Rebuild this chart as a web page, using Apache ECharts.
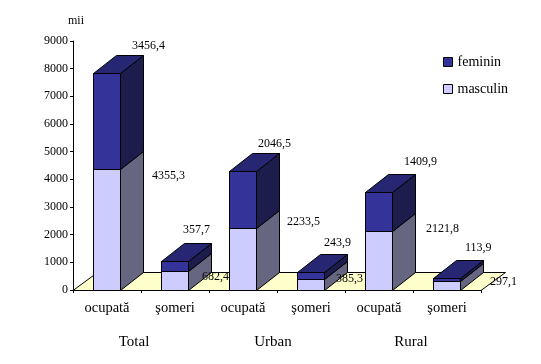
<!DOCTYPE html>
<html>
<head>
<meta charset="utf-8">
<script src="https://cdn.jsdelivr.net/npm/echarts@6/dist/echarts.min.js"></script>
<style>
    html, body { margin: 0; padding: 0; background: #fff; }
    #chart { width: 541px; height: 364px; }
</style>
</head>
<body>
<div id="chart"></div>
<script>
const categories = ['ocupată', 'şomeri', 'ocupată', 'şomeri', 'ocupată', 'şomeri'];
const groups = ['Total', 'Urban', 'Rural'];
const masculin = [4355.3, 682.4, 2233.5, 385.3, 2121.8, 297.1];
const feminin = [3456.4, 357.7, 2046.5, 243.9, 1409.9, 113.9];
const yTicks = { min: 0, max: 9000, interval: 1000 };

// the value labels are hand placed in the original, so offset each from its bar
const femininLabelOffset = [[25, -28], [8, -31], [15, -28], [13, -30], [25, -30], [18, -31]];
const masculinLabelOffset = [[45, 6], [27, 6], [44, -6], [25, 0], [47, -2], [43, 0]];
const groupLabelOffset = [-7, -4, -2];

const FONT = '"Liberation Serif", "Times New Roman", serif';
const DEPTH_X = 23, DEPTH_Y = 18;

function crisp(v) { return Math.round(v - 0.5) + 0.5; }

// front and side face of one bar segment, plus the top face if asked
function barSegment(colors, withTop) {
    return function (params, api) {
        const cat = api.value(0);
        const w = Math.round(api.size([1, 0])[0] * 0.4);
        const left = crisp(api.coord([cat, 0])[0] - w / 2);
        const right = left + w;
        const bottom = crisp(api.coord([cat, api.value(1)])[1]);
        const top = crisp(api.coord([cat, api.value(1) + api.value(2)])[1]);
        const border = { stroke: '#000', lineWidth: 1 };
        const face = (points, fill) => ({
            type: 'polygon',
            shape: { points: points },
            style: Object.assign({ fill: fill }, border)
        });
        const children = [
            face([[right, top], [right + DEPTH_X, top - DEPTH_Y], [right + DEPTH_X, bottom - DEPTH_Y], [right, bottom]], colors.side),
            face([[left, top], [right, top], [right, bottom], [left, bottom]], colors.front)
        ];
        if (withTop) {
            children.push(face([[left, top], [left + DEPTH_X, top - DEPTH_Y], [right + DEPTH_X, top - DEPTH_Y], [right, top]], colors.top));
        }
        return { type: 'group', children: children };
    };
}

function renderFloor(params, api) {
    const half = api.size([1, 0])[0] / 2;
    const y = crisp(api.coord([0, 0])[1]);
    const x0 = api.coord([0, 0])[0] - half;
    const x1 = api.coord([categories.length - 1, 0])[0] + half;
    return {
        type: 'polygon',
        shape: { points: [[x0, y], [x0 + 24.5, y - DEPTH_Y], [x1 + 24.5, y - DEPTH_Y], [x1, y]] },
        style: { fill: '#ffffcc', stroke: '#000', lineWidth: 1 }
    };
}

function renderValueLabel(params, api) {
    const cat = api.value(0);
    const p = api.coord([cat, api.value(1)]);
    const off = params.seriesName === 'femininLabels' ? femininLabelOffset[cat] : masculinLabelOffset[cat];
    return {
        type: 'text',
        style: {
            x: p[0] + off[0],
            y: p[1] + off[1],
            text: String(api.value(2)).replace('.', ','),
            fill: '#000',
            fontSize: 12,
            fontFamily: FONT,
            verticalAlign: 'middle'
        }
    };
}

function renderGroupLabel(params, api) {
    const i = params.dataIndex;
    const a = api.coord([i * 2, 0]);
    const b = api.coord([i * 2 + 1, 0]);
    return {
        type: 'text',
        style: {
            x: (a[0] + b[0]) / 2 + groupLabelOffset[i],
            y: a[1] + 52,
            text: groups[i],
            fill: '#000',
            fontSize: 15,
            fontFamily: FONT,
            align: 'center',
            verticalAlign: 'middle'
        }
    };
}

const masculinData = categories.map((c, i) => [i, 0, masculin[i]]);
const femininData = categories.map((c, i) => [i, masculin[i], feminin[i]]);
const femininLabelData = categories.map((c, i) => [i, masculin[i] + feminin[i], feminin[i]]);
const masculinLabelData = categories.map((c, i) => [i, masculin[i], masculin[i]]);

const myChart = echarts.init(document.getElementById('chart'));
const option = {
    animation: false,
    backgroundColor: '#fff',
    textStyle: { fontFamily: FONT, color: '#000' },
    grid: { left: 73, right: 60, top: 41, bottom: 74 },
    legend: {
        data: ['feminin', 'masculin'],
        orient: 'vertical',
        left: 443,
        top: 55,
        padding: 0,
        icon: 'rect',
        itemWidth: 9,
        itemHeight: 9,
        itemGap: 13,
        selectedMode: false,
        itemStyle: { borderColor: '#000', borderWidth: 1 },
        textStyle: { fontFamily: FONT, fontSize: 14, color: '#000' }
    },
    xAxis: {
        type: 'category',
        data: categories,
        axisLine: { lineStyle: { color: '#000' } },
        axisTick: { show: true, length: 3, alignWithLabel: false, lineStyle: { color: '#000' } },
        axisLabel: { color: '#000', fontSize: 14.5, fontFamily: FONT, margin: 11, interval: 0 }
    },
    yAxis: {
        type: 'value',
        min: yTicks.min,
        max: yTicks.max,
        interval: yTicks.interval,
        name: 'mii',
        nameGap: 14,
        nameTextStyle: { color: '#000', fontSize: 12, fontFamily: FONT, padding: [0, 0, 0, 6] },
        axisLine: { show: true, lineStyle: { color: '#000' } },
        axisTick: { show: true, length: 3, lineStyle: { color: '#000' } },
        splitLine: { show: false },
        axisLabel: { color: '#000', fontSize: 12, fontFamily: FONT, margin: 5, formatter: v => String(v) }
    },
    series: [
        { name: 'floor', type: 'custom', silent: true, renderItem: renderFloor, data: [[0, 0]], z: 1 },
        {
            name: 'masculin', type: 'custom', silent: true, z: 2,
            itemStyle: { color: '#ccccff' },
            renderItem: barSegment({ front: '#ccccff', side: '#666680' }, false),
            encode: { x: 0, y: [1, 2] },
            data: masculinData
        },
        {
            name: 'feminin', type: 'custom', silent: true, z: 3,
            itemStyle: { color: '#333399' },
            renderItem: barSegment({ front: '#333399', side: '#1c1c4d', top: '#262673' }, true),
            encode: { x: 0, y: [1, 2] },
            data: femininData
        },
        { name: 'femininLabels', type: 'custom', silent: true, z: 4, renderItem: renderValueLabel, data: femininLabelData },
        { name: 'masculinLabels', type: 'custom', silent: true, z: 4, renderItem: renderValueLabel, data: masculinLabelData },
        { name: 'groupLabels', type: 'custom', silent: true, z: 4, renderItem: renderGroupLabel, data: groups.map((g, i) => [i * 2, 0]) }
    ]
};
myChart.setOption(option);
</script>
</body>
</html>
